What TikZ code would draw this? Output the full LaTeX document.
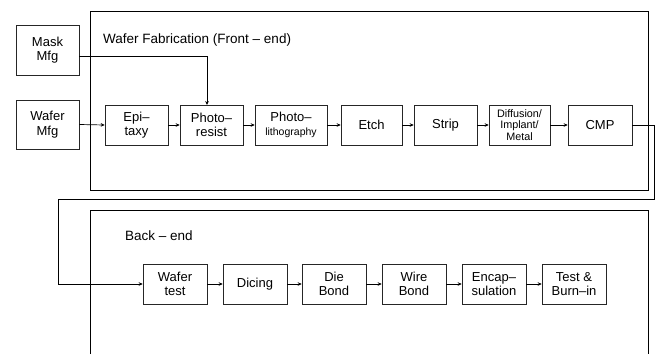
\documentclass[tikz,border=0pt]{standalone}
\usepackage{fontspec}
\setmainfont{Liberation Sans}
\usetikzlibrary{arrows.meta}
\begin{document}
\begin{tikzpicture}[x=1pt,y=-1pt,
  proc/.style={draw=black!85,line width=0.6pt,inner sep=0pt,align=center,
    font=\fontsize{13}{14.5}\selectfont},
  frame/.style={draw=black,line width=0.7pt},
  arr/.style={draw=black,line width=0.7pt,-{Stealth[length=4pt,width=3.6pt]}},
  lbl/.style={anchor=west,inner sep=0pt,font=\fontsize{13.5}{15}\selectfont}]
\useasboundingbox (0,0) rectangle (660,354);
% frames
\draw[frame] (90,11) rectangle (648,190);
\draw[frame] (90,354) -- (90,210) -- (648,210) -- (648,354);
\node[lbl] (fe) at (103,40) {Wafer Fabrication (Front – end)};
\node[lbl] (be) at (125,236) {Back – end};
% outside
\node[proc,minimum width=63pt,minimum height=50pt] (mask) at (47.5,50) {Mask\\Mfg};
\node[proc,minimum width=63pt,minimum height=49pt] (wmfg) at (47.5,124.5) {Wafer\\Mfg};
% row 1
\node[proc,minimum width=63pt,minimum height=40pt] (epi) at (136.5,125) {Epi–\\taxy};
\node[proc,minimum width=63pt,minimum height=40pt] (pr) at (211.5,125) {Photo–\\resist};
\node[proc,minimum width=72pt,minimum height=40pt] (pl) at (291,125) {Photo–\\{\fontsize{10.5}{12}\selectfont lithography}};
\node[proc,minimum width=61pt,minimum height=40pt] (etch) at (371.5,125) {Etch};
\node[proc,minimum width=63pt,minimum height=40pt] (strip) at (445.5,125) {Strip};
\node[proc,minimum width=61pt,minimum height=40pt,font=\fontsize{10.8}{11.8}\selectfont] (diff) at (519.5,125) {Diffusion/\\Implant/\\Metal};
\node[proc,minimum width=64pt,minimum height=40pt] (cmp) at (600,125) {CMP};
% row 2
\node[proc,minimum width=64pt,minimum height=40pt] (wt) at (175,284) {Wafer\\test};
\node[proc,minimum width=64pt,minimum height=40pt] (dic) at (255,284) {Dicing};
\node[proc,minimum width=64pt,minimum height=40pt] (die) at (334,284) {Die\\Bond};
\node[proc,minimum width=64pt,minimum height=40pt] (wire) at (414,284) {Wire\\Bond};
\node[proc,minimum width=64pt,minimum height=40pt] (enc) at (494,284) {Encap–\\sulation};
\node[proc,minimum width=64pt,minimum height=40pt] (tb) at (574,284) {Test \&\\Burn–in};
% connectors
\coordinate (m0) at (79,56);
\coordinate (m1) at (207,105);
\draw[arr] (m0) -| (m1);
\draw[arr] (wmfg.east) -- (epi.west);
\draw[arr] (epi) -- (pr);
\draw[arr] (pr) -- (pl);
\draw[arr] (pl) -- (etch);
\draw[arr] (etch) -- (strip);
\draw[arr] (strip) -- (diff);
\draw[arr] (diff) -- (cmp);
\coordinate (c1) at (654,199);
\coordinate (c2) at (58,199);
\draw[arr] (cmp.east) -| (c1) -- (c2) |- (wt.west);
\draw[arr] (wt) -- (dic);
\draw[arr] (dic) -- (die);
\draw[arr] (die) -- (wire);
\draw[arr] (wire) -- (enc);
\draw[arr] (enc) -- (tb);
\end{tikzpicture}
\end{document}
